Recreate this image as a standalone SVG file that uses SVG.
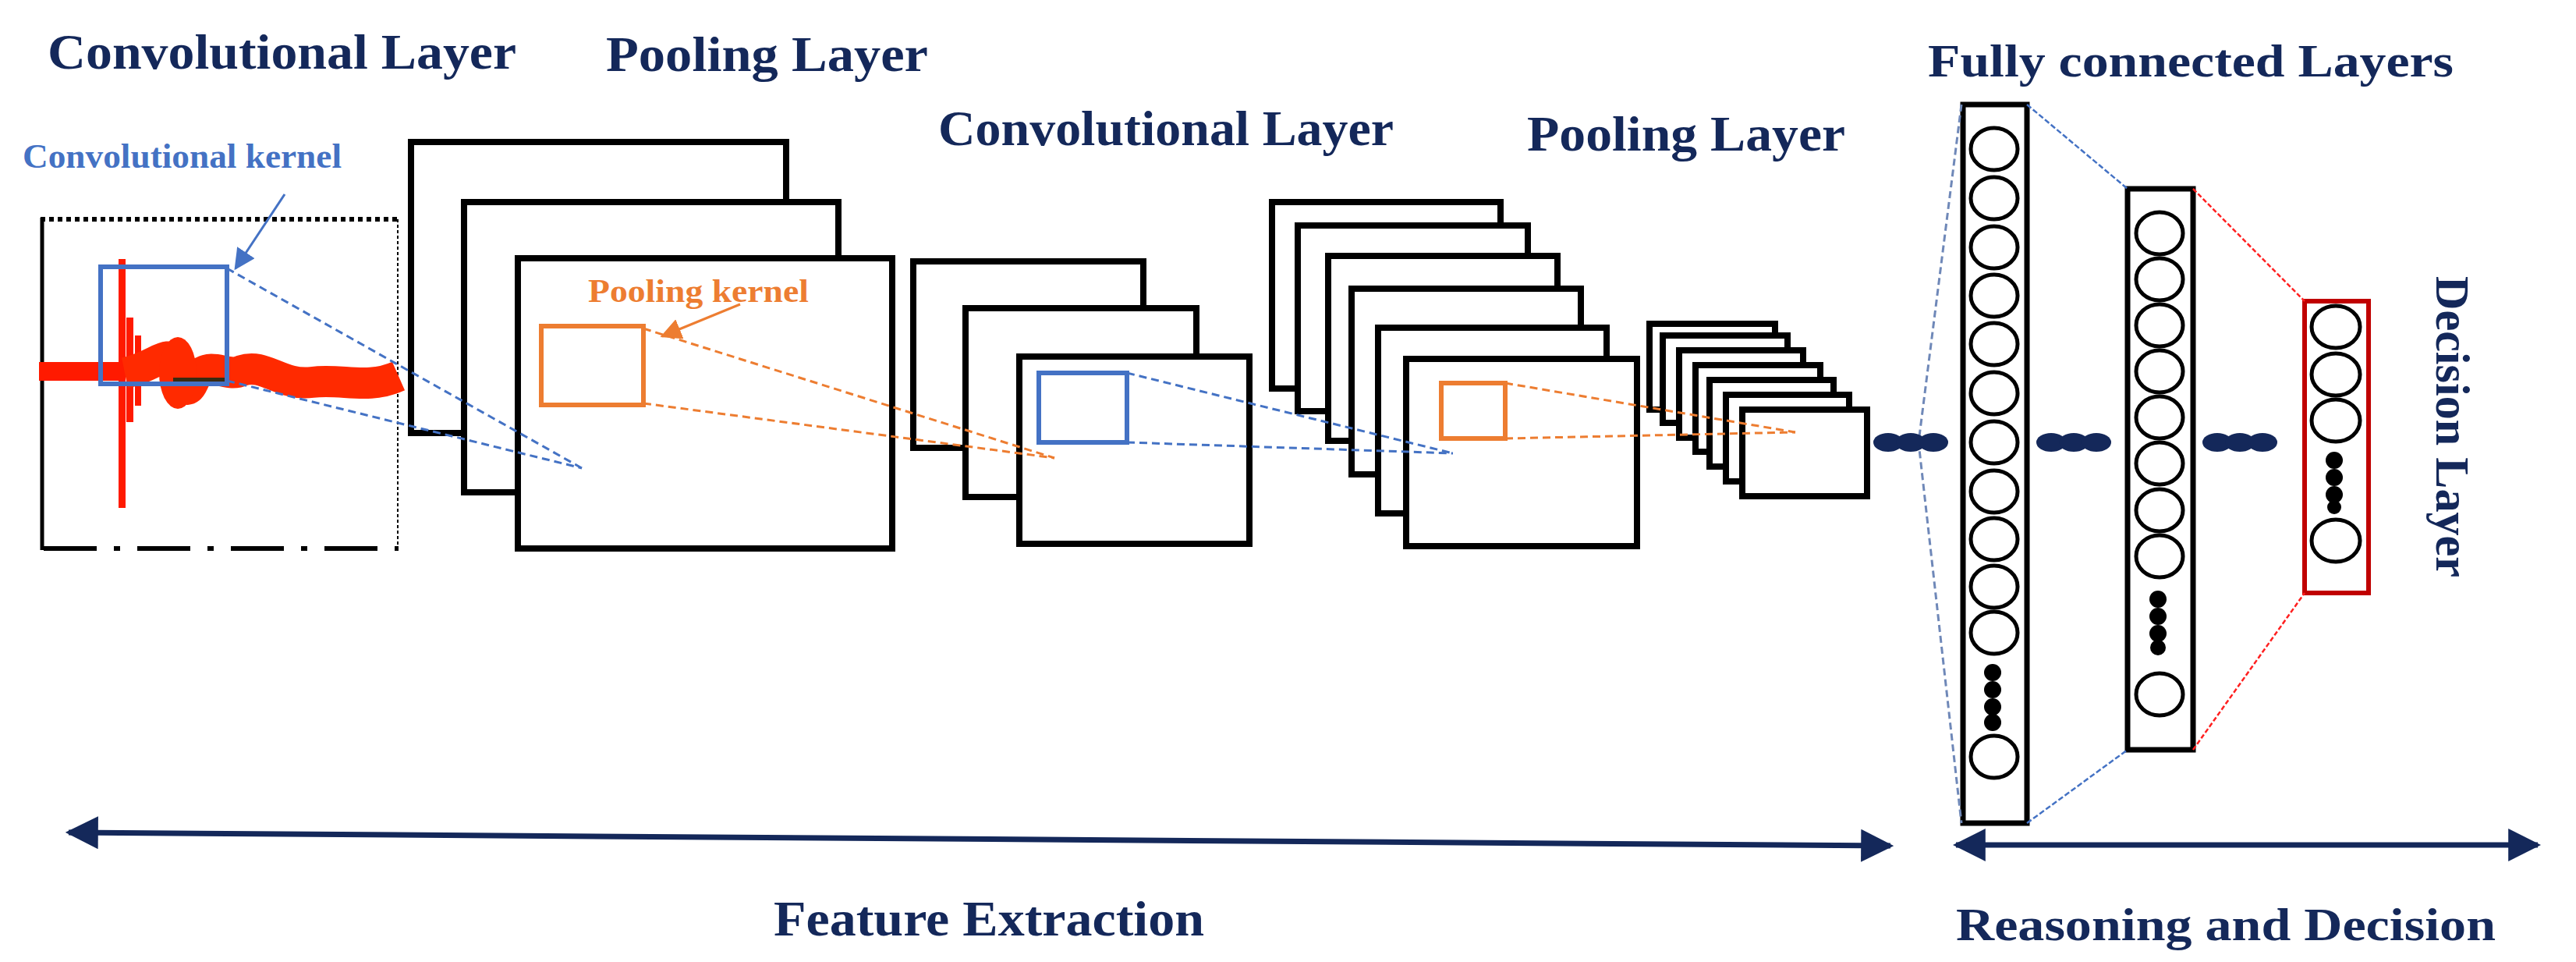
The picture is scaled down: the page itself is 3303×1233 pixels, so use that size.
<svg xmlns="http://www.w3.org/2000/svg" width="3303" height="1233" viewBox="0 0 3303 1233">
<style>
.t{font-family:"Liberation Serif",serif;font-weight:bold;fill:#14285a}
.fr{fill:#fff;stroke:#000;stroke-width:8}
.bl{stroke:#4472c4;stroke-width:3;stroke-dasharray:10 6;fill:none}
.or{stroke:#ed7d31;stroke-width:3;stroke-dasharray:10 6;fill:none}
.rd{stroke:#ff2020;stroke-width:2.5;stroke-dasharray:6 3;fill:none}
.nc{fill:none;stroke:#000;stroke-width:5}
.nav{fill:#14285a}
</style>
<defs>
<marker id="ah" viewBox="0 0 10 10" refX="9" refY="5" markerWidth="6" markerHeight="6" orient="auto-start-reverse"><path d="M0,0L10,5L0,10z" fill="#14285a"/></marker>
<marker id="ab" viewBox="0 0 10 10" refX="9" refY="5" markerWidth="9" markerHeight="9" orient="auto"><path d="M0,0L10,5L0,10z" fill="#4472c4"/></marker>
<marker id="ao" viewBox="0 0 10 10" refX="9" refY="5" markerWidth="9" markerHeight="9" orient="auto"><path d="M0,0L10,5L0,10z" fill="#ed7d31"/></marker>
<g id="dots3"><ellipse cx="0" cy="0" rx="19" ry="12"/><ellipse cx="29" cy="0" rx="19" ry="12"/><ellipse cx="58" cy="0" rx="19" ry="12"/></g>
</defs>

<g id="titles">
<text class="t" x="61" y="88" font-size="64" textLength="601" lengthAdjust="spacingAndGlyphs">Convolutional Layer</text>
<text class="t" x="777" y="91" font-size="64" textLength="413" lengthAdjust="spacingAndGlyphs">Pooling Layer</text>
<text class="t" x="1203" y="186" font-size="64" textLength="584" lengthAdjust="spacingAndGlyphs">Convolutional Layer</text>
<text class="t" x="1958" y="193" font-size="64" textLength="408" lengthAdjust="spacingAndGlyphs">Pooling Layer</text>
<text class="t" x="2472" y="98" font-size="60" textLength="674" lengthAdjust="spacingAndGlyphs">Fully connected Layers</text>
<text class="t" x="992" y="1199" font-size="64" textLength="552" lengthAdjust="spacingAndGlyphs">Feature Extraction</text>
<text class="t" x="2508" y="1205" font-size="60" textLength="692" lengthAdjust="spacingAndGlyphs">Reasoning and Decision</text>
<text class="t" transform="translate(3124,547) rotate(90)" text-anchor="middle" font-size="62" textLength="386" lengthAdjust="spacingAndGlyphs">Decision Layer</text>
</g>

<g id="input">
<line x1="52" y1="281" x2="511" y2="281" stroke="#000" stroke-width="6" stroke-dasharray="6 5"/>
<line x1="54" y1="279" x2="54" y2="705" stroke="#000" stroke-width="5"/>
<line x1="510" y1="281" x2="510" y2="705" stroke="#000" stroke-width="2" stroke-dasharray="4 3"/>
<line x1="56" y1="703" x2="511" y2="703" stroke="#000" stroke-width="6" stroke-dasharray="68 22 8 22"/>
<rect x="50" y="464" width="108" height="24" fill="#ff1a00"/>
<rect x="152" y="332" width="9" height="319" fill="#ff1a00"/>
<rect x="162" y="407" width="9" height="134" fill="#ff1a00"/>
<rect x="173" y="430" width="8" height="90" fill="#ff1a00"/>
<path d="M160,478 C200,470 215,445 225,465 C235,500 240,510 250,485 C270,460 290,485 310,475 C340,465 360,495 400,490 C440,485 470,500 511,482" fill="none" stroke="#ff2a00" stroke-width="40"/>
<ellipse cx="228" cy="478" rx="24" ry="46" fill="#ff2a00"/>
<rect x="222" y="484" width="70" height="10" fill="#3a2a10"/>
<rect x="129" y="342" width="162" height="150" fill="none" stroke="#4472c4" stroke-width="6"/>
<text x="29" y="215" font-family="Liberation Serif,serif" font-weight="bold" font-size="44" fill="#4472c4" textLength="409" lengthAdjust="spacingAndGlyphs">Convolutional kernel</text>
</g>

<g id="pool1">
<rect class="fr" x="527" y="182" width="481" height="373"/>
<rect class="fr" x="595" y="259" width="480" height="372"/>
<rect class="fr" x="664" y="331" width="480" height="372"/>
<rect x="694" y="418" width="131" height="101" fill="none" stroke="#ed7d31" stroke-width="6"/>
<text x="754" y="387" font-family="Liberation Serif,serif" font-weight="bold" font-size="42" fill="#ed7d31" textLength="283" lengthAdjust="spacingAndGlyphs">Pooling kernel</text>
</g>

<g id="conv2">
<rect class="fr" x="1171" y="335" width="295" height="239"/>
<rect class="fr" x="1238" y="395" width="296" height="242"/>
<rect class="fr" x="1307" y="457" width="295" height="240"/>
<rect x="1332" y="478" width="113" height="89" fill="none" stroke="#4472c4" stroke-width="6"/>
</g>

<g id="pool2">
<rect class="fr" x="1631" y="259" width="293" height="239"/>
<rect class="fr" x="1664" y="289" width="295" height="238"/>
<rect class="fr" x="1703" y="328" width="294" height="237"/>
<rect class="fr" x="1733" y="370" width="294" height="238"/>
<rect class="fr" x="1767" y="420" width="293" height="238"/>
<rect class="fr" x="1803" y="460" width="296" height="240"/>
<rect x="1848" y="491" width="82" height="71" fill="none" stroke="#ed7d31" stroke-width="6"/>
</g>

<g id="pool3">
<rect class="fr" x="2115" y="415" width="161" height="110"/>
<rect class="fr" x="2132" y="430" width="160" height="112"/>
<rect class="fr" x="2153" y="449" width="159" height="112"/>
<rect class="fr" x="2174" y="468" width="160" height="111"/>
<rect class="fr" x="2192" y="487" width="159" height="111"/>
<rect class="fr" x="2213" y="506" width="158" height="111"/>
<rect class="fr" x="2234" y="525" width="160" height="111"/>
</g>

<g id="fc1">
<rect x="2517" y="134" width="82" height="921" fill="#fff" stroke="#000" stroke-width="7"/>
<g class="nc">
<ellipse cx="2557" cy="191" rx="30" ry="27"/><ellipse cx="2557" cy="254" rx="30" ry="27"/><ellipse cx="2557" cy="317" rx="30" ry="27"/><ellipse cx="2557" cy="379" rx="30" ry="27"/><ellipse cx="2557" cy="441" rx="30" ry="27"/><ellipse cx="2557" cy="504" rx="30" ry="27"/><ellipse cx="2557" cy="567" rx="30" ry="27"/><ellipse cx="2557" cy="630" rx="30" ry="27"/><ellipse cx="2557" cy="691" rx="30" ry="27"/><ellipse cx="2557" cy="752" rx="30" ry="27"/><ellipse cx="2557" cy="811" rx="30" ry="27"/><ellipse cx="2557" cy="970" rx="30" ry="27"/>
</g>
<circle cx="2555" cy="862" r="11"/><circle cx="2555" cy="884" r="11"/><circle cx="2555" cy="906" r="11"/><circle cx="2555" cy="926" r="11"/>
</g>

<g id="fc2">
<rect x="2728" y="242" width="84" height="719" fill="#fff" stroke="#000" stroke-width="7"/>
<g class="nc">
<ellipse cx="2769" cy="299" rx="30" ry="27"/><ellipse cx="2769" cy="358" rx="30" ry="27"/><ellipse cx="2769" cy="417" rx="30" ry="27"/><ellipse cx="2769" cy="476" rx="30" ry="27"/><ellipse cx="2769" cy="535" rx="30" ry="27"/><ellipse cx="2769" cy="594" rx="30" ry="27"/><ellipse cx="2769" cy="654" rx="30" ry="27"/><ellipse cx="2769" cy="713" rx="30" ry="27"/><ellipse cx="2769" cy="890" rx="30" ry="27"/>
</g>
<circle cx="2767" cy="768" r="11"/><circle cx="2767" cy="790" r="11"/><circle cx="2767" cy="812" r="11"/><circle cx="2767" cy="830" r="10"/>
</g>

<g id="fc3">
<rect x="2955" y="386" width="82" height="374" fill="#fff" stroke="#c00000" stroke-width="6"/>
<g class="nc">
<ellipse cx="2995" cy="419" rx="31" ry="27"/><ellipse cx="2995" cy="480" rx="31" ry="27"/><ellipse cx="2995" cy="539" rx="31" ry="27"/><ellipse cx="2995" cy="693" rx="31" ry="27"/>
</g>
<circle cx="2993" cy="590" r="11"/><circle cx="2993" cy="612" r="11"/><circle cx="2993" cy="634" r="11"/><circle cx="2993" cy="650" r="9"/>
</g>

<g id="connectors">
<line x1="365" y1="249" x2="302" y2="344" stroke="#4472c4" stroke-width="3" marker-end="url(#ab)"/>
<line x1="949" y1="390" x2="849" y2="431" stroke="#ed7d31" stroke-width="3" marker-end="url(#ao)"/>
<line class="bl" x1="291" y1="344" x2="746" y2="600"/>
<line class="bl" x1="291" y1="488" x2="746" y2="600"/>
<line class="or" x1="825" y1="421" x2="1352" y2="587"/>
<line class="or" x1="825" y1="517" x2="1352" y2="587"/>
<line class="bl" x1="1445" y1="478" x2="1863" y2="581"/>
<line class="bl" x1="1445" y1="567" x2="1863" y2="581"/>
<line class="or" x1="1930" y1="491" x2="2302" y2="554"/>
<line class="or" x1="1930" y1="562" x2="2302" y2="554"/>
<polyline points="2515,134 2460,567 2515,1055" fill="none" stroke="#6f88b8" stroke-width="3" stroke-dasharray="9 5"/>
<line x1="2599" y1="134" x2="2728" y2="242" stroke="#4472c4" stroke-width="2.5" stroke-dasharray="7 3"/>
<line x1="2599" y1="1055" x2="2728" y2="961" stroke="#4472c4" stroke-width="2.5" stroke-dasharray="7 3"/>
<line class="rd" x1="2812" y1="242" x2="2955" y2="386"/>
<line class="rd" x1="2812" y1="961" x2="2955" y2="760"/>
<g class="nav">
<use href="#dots3" x="2421" y="567"/>
<use href="#dots3" x="2630" y="567"/>
<use href="#dots3" x="2843" y="567"/>
</g>
<line x1="88" y1="1067" x2="2424" y2="1084" stroke="#14285a" stroke-width="7" marker-start="url(#ah)" marker-end="url(#ah)"/>
<line x1="2508" y1="1083" x2="3254" y2="1083" stroke="#14285a" stroke-width="7" marker-start="url(#ah)" marker-end="url(#ah)"/>
</g>
</svg>
